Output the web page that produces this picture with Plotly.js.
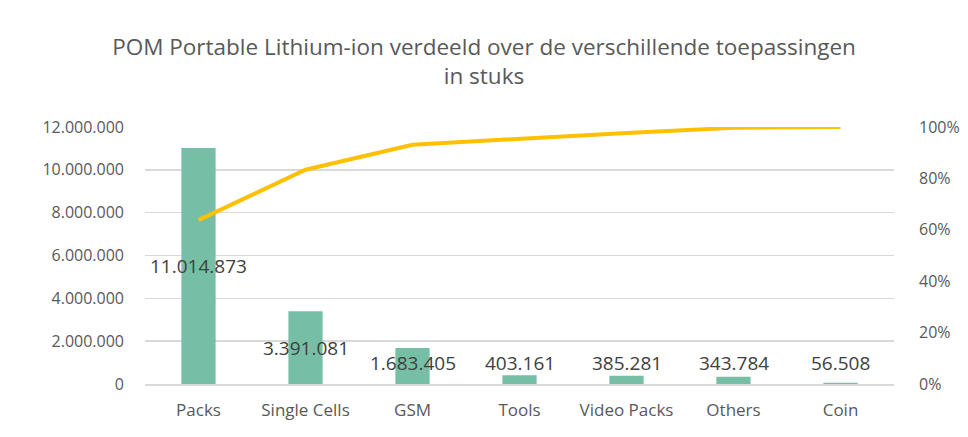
<!DOCTYPE html>
<html><head><meta charset="utf-8">
<script src="https://cdn.plot.ly/plotly-3.0.1.min.js"></script>
<style>html,body{margin:0;padding:0;background:#fff;}#chart{width:968px;height:437px;}
#border{position:absolute;left:10px;top:0;width:1px;height:437px;background:#d9d9d9;}</style>
</head><body><div id="border"></div><div id="chart"></div>
<script>
const categories = ["Packs","Single Cells","GSM","Tools","Video Packs","Others","Coin"];
const units = [11014873,3391081,1683405,403161,385281,343784,56508];
const labels = ["11.014.873","3.391.081","1.683.405","403.161","385.281","343.784","56.508"];
const cumulativePct = [0.6375,0.8338,0.9312,0.9545,0.9768,0.9967,1.0];
const leftTicks = [0,2000000,4000000,6000000,8000000,10000000,12000000];
const leftTickText = ["0","2.000.000","4.000.000","6.000.000","8.000.000","10.000.000","12.000.000"];
const rightTicks = [0,0.2,0.4,0.6,0.8,1.0];
const rightTickText = ["0%","20%","40%","60%","80%","100%"];

const font = "'Open Sans', sans-serif";
const annotations = categories.map((c,i)=>({
  x:c, y:Math.max(units[i]/2, 1000000), xref:'x', yref:'y',
  text:labels[i], showarrow:false, font:{family:font,size:19,color:'#404040'}
}));

const data = [
  {type:'bar', x:categories, y:units, marker:{color:'#76BFA6'}, width:0.32, hoverinfo:'none'},
  {type:'scatter', mode:'lines', x:categories, y:cumulativePct, yaxis:'y2',
   line:{color:'#FFC000', width:4}, hoverinfo:'none'}
];
const layout = {
  width:968, height:437, showlegend:false,
  paper_bgcolor:'#fff', plot_bgcolor:'#fff',
  margin:{l:145, r:74, t:127, b:53},
  title:{text:"POM Portable Lithium-ion verdeeld over de verschillende toepassingen<br>in stuks",
    font:{family:font,size:22.5,color:'#595959'}, x:0.5, xanchor:'center',
    yref:'container', y:1-55/437, yanchor:'middle'},
  xaxis:{tickfont:{family:font,size:17,color:'#595959'}, showline:true, linecolor:'#d9d9d9', linewidth:2, ticks:'', ticklabelstandoff:10, fixedrange:true},
  yaxis:{range:[0,12000000], tickvals:leftTicks, ticktext:leftTickText,
    tickfont:{family:font,size:16,color:'#595959'}, gridcolor:'#d9d9d9', gridwidth:1.5, zeroline:false, ticklen:0, ticklabelstandoff:20},
  yaxis2:{range:[0,1], overlaying:'y', side:'right', tickvals:rightTicks, ticktext:rightTickText,
    tickfont:{family:font,size:16,color:'#595959'}, showgrid:false, zeroline:false, ticklabelstandoff:24},
  annotations:annotations
};
Plotly.newPlot('chart', data, layout, {displayModeBar:false, staticPlot:true});
</script></body></html>
